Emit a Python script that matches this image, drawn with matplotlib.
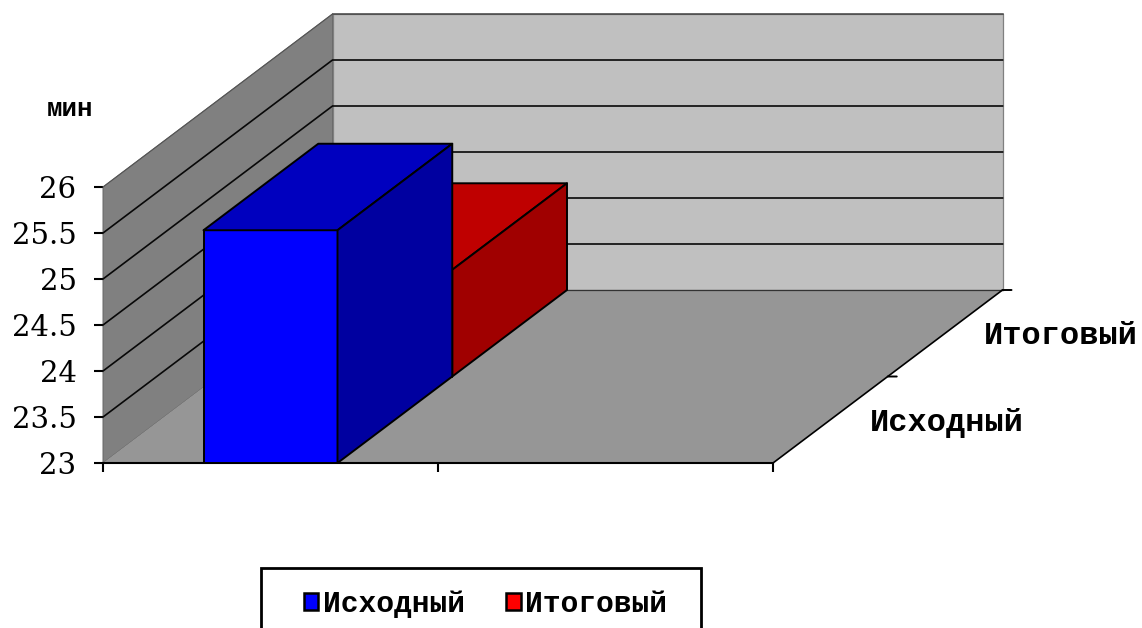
import matplotlib
matplotlib.use("Agg")
import matplotlib.pyplot as plt
from matplotlib.patches import Polygon, Patch, Rectangle

categories = ["Исходный", "Итоговый"]
values = [25.53, 24.16]
colors_front = ["#0000FF", "#FF0000"]
colors_top = ["#0000BF", "#BF0000"]
colors_side = ["#0000A0", "#A00000"]
yticks = [23, 23.5, 24, 24.5, 25, 25.5, 26]
unit_label = "мин"

W, H = 1142, 628
fig = plt.figure(figsize=(W / 100, H / 100), dpi=100)
# front plane of the 3-D box: x 103..773 px, y 463..187 px
L, R, B, T = 103, 773, 463, 187
ax = fig.add_axes([L / W, 1 - B / H, (R - L) / W, (B - T) / H])
XMAX, VMIN, VMAX = 2, 23, 26
ax.set_xlim(0, XMAX)
ax.set_ylim(VMIN, VMAX)
DX = 229.5 / ((R - L) / XMAX)      # full depth, in x units
DY = 173.0 / ((B - T) / (VMAX - VMIN))  # full depth, in value units


def P(x, v, d):
    return (x + d * DX, v + d * DY)


def face(pts, fc, ec, lw, z):
    ax.add_patch(Polygon([P(*p) for p in pts], closed=True, fc=fc, ec=ec, lw=lw,
                         zorder=z, clip_on=False, joinstyle="round"))


# walls and floor
face([(0, VMIN, 0), (0, VMAX, 0), (0, VMAX, 1), (0, VMIN, 1)], "#808080", "#666666", 0.7, 1)
face([(0, VMIN, 1), (0, VMAX, 1), (XMAX, VMAX, 1), (XMAX, VMIN, 1)], "#C0C0C0", "#808080", 0.9, 1)
face([(0, VMIN, 0), (XMAX, VMIN, 0), (XMAX, VMIN, 1), (0, VMIN, 1)], "#969696", "none", 0, 1.5)

# gridlines
for v in yticks[1:-1]:
    a, b, c = P(0, v, 0), P(0, v, 1), P(XMAX, v, 1)
    ax.plot([a[0], b[0], c[0]], [a[1], b[1], c[1]], color="#080808", lw=1.2, zorder=2,
            clip_on=False, solid_joinstyle="miter")
for pts, col, lw in [
    ([(0, VMAX, 1), (XMAX, VMAX, 1)], "#444444", 1.1),
    ([(0, VMAX, 0), (0, VMAX, 1)], "#555555", 0.8),
    ([(0, VMIN, 1), (XMAX, VMIN, 1)], "#333333", 0.9),
    ([(XMAX, VMIN, 0), (XMAX, VMIN, 1)], "#000000", 1.2),
    ([(0, VMIN, 0), (XMAX, VMIN, 0)], "#000000", 1.5),
]:
    q = [P(*p) for p in pts]
    ax.plot([q[0][0], q[1][0]], [q[0][1], q[1][1]], color=col, lw=lw, zorder=2.2, clip_on=False)

# bars (rear series first)
x0, x1 = 0.30, 0.70
for i in [1, 0]:
    v = values[i]
    d0, d1 = i * 0.5, (i + 1) * 0.5
    z = 5 - i
    e = "#000000"
    face([(x0, VMIN, d0), (x1, VMIN, d0), (x1, v, d0), (x0, v, d0)], colors_front[i], e, 1.4, z)
    face([(x0, v, d0), (x1, v, d0), (x1, v, d1), (x0, v, d1)], colors_top[i], e, 1.4, z)
    face([(x1, VMIN, d0), (x1, VMIN, d1), (x1, v, d1), (x1, v, d0)], colors_side[i], e, 1.4, z)

# axes furniture
for s in ax.spines.values():
    s.set_visible(False)
ax.patch.set_visible(False)
ax.set_xticks([0, 1, 2])
ax.set_xticklabels([])
ax.set_yticks(yticks)
ax.set_yticklabels([f"{t:g}" for t in yticks], family="DejaVu Serif", fontsize=21)
ax.tick_params(axis="both", length=6.5, width=1.5, color="black")
ax.tick_params(axis="y", pad=12.5)

# depth ticks + labels
for k, name in enumerate(categories):
    tx, ty = P(XMAX, VMIN, (k + 1) * 0.5)
    ax.annotate("", xy=(tx, ty), xytext=(9, 0), textcoords="offset pixels",
                arrowprops=dict(arrowstyle="-", lw=1.4, color="black", shrinkA=0, shrinkB=0),
                annotation_clip=False)
    lx, ly = P(XMAX, VMIN, (k + 0.5) * 0.5)
    ax.annotate(name, xy=(lx, ly), xytext=(39, -3), textcoords="offset pixels",
                family="Liberation Mono", weight="bold", fontsize=23, ha="left", va="center",
                annotation_clip=False)

fig.text(69.5 / W, 1 - 109 / H, unit_label, family="Liberation Mono", weight="bold",
         fontsize=18.5, ha="center", va="center")

# legend
fig.add_artist(Rectangle((261 / W, 1 - 640 / H), 440 / W, 72 / H, transform=fig.transFigure,
                         fc="white", ec="black", lw=2))
handles = [Patch(fc=c, ec="black", lw=1.8) for c in colors_front]
fig.legend(handles, categories, loc="center", bbox_to_anchor=(485.5 / W, 1 - 604 / H),
           frameon=False, ncols=2, borderpad=0, handlelength=0.5, handleheight=0.5,
           handletextpad=0.15, columnspacing=1.4,
           prop=dict(family="Liberation Mono", weight="bold", size=21.3))

fig.savefig("out.png", dpi=100)
